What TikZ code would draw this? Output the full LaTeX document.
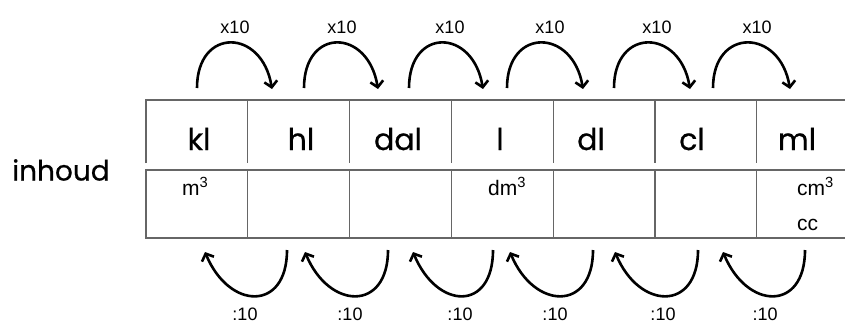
\documentclass[tikz,border=0pt]{standalone}
\usepackage{fontspec}
\setmainfont{Liberation Sans}
\newfontfamily\kidfont{Poppins}[FakeBold=0.6]
\usepackage{tikz}
\usetikzlibrary{arrows.meta}

\begin{document}
\begin{tikzpicture}[x=10pt, y=10pt,
    grid/.style={line width=1.1pt, black!60},
    unit/.style={inner sep=0pt, anchor=base, font=\kidfont\fontsize{30}{30}\selectfont},
    small/.style={inner sep=0pt, anchor=base west, font=\fontsize{21}{21}\selectfont},
    factor/.style={inner sep=0pt, anchor=base, font=\fontsize{18}{18}\selectfont},
    jump/.style={line width=2.6pt, black, -{Straight Barb[length=6pt, width=13pt]}}]
  \useasboundingbox (0,0) rectangle (84.5,32.5);

  % upper row
  \draw[grid] (14.6,16.2) -- (14.6,22.5) -- (84.5,22.5);
  \draw[grid] (24.78,22.5) -- (24.78,16.2) (34.96,22.5) -- (34.96,16.2)
              (45.14,22.5) -- (45.14,16.2) (55.32,22.5) -- (55.32,16.2)
              (65.5,22.5) -- (65.5,16.2) (75.68,22.5) -- (75.68,16.2);
  % lower row
  \draw[grid] (84.5,15.5) -- (14.6,15.5) -- (14.6,8.7) -- (84.5,8.7);
  \draw[grid] (24.78,15.5) -- (24.78,8.7) (34.96,15.5) -- (34.96,8.7)
              (45.14,15.5) -- (45.14,8.7) (55.32,15.5) -- (55.32,8.7)
              (65.5,15.5) -- (65.5,8.7) (75.68,15.5) -- (75.68,8.7);

  \node[font=\kidfont\fontsize{28}{28}\selectfont] (inhoud) at (6.1,15.5) {inhoud};

  \node[unit] (kl) at (19.9,17.5) {kl};
  \node[unit] (hl) at (30.1,17.5) {hl};
  \node[unit] (dal) at (39.8,17.5) {dal};
  \node[unit] (l) at (50.0,17.5) {l};
  \node[unit] (dl) at (59.1,17.5) {dl};
  \node[unit] (cl) at (69.2,17.5) {cl};
  \node[unit] (ml) at (79.7,17.5) {ml};

  \node[small] (m3) at (18.2,13.0) {m\textsuperscript{3}};
  \node[small] (dm3) at (48.8,13.0) {dm\textsuperscript{3}};
  \node[small] (cm3) at (79.7,13.0) {cm\textsuperscript{3}};
  \node[small] (cc) at (79.7,9.5) {cc};

  % x10 jumps
  \coordinate (up1) at (19.7,23.7);  \coordinate (down1) at (27.2,23.6);
  \coordinate (up2) at (30.4,23.7);  \coordinate (down2) at (37.8,23.6);
  \coordinate (up3) at (40.9,23.7);  \coordinate (down3) at (48.3,23.6);
  \coordinate (up4) at (50.7,23.7);  \coordinate (down4) at (58.3,23.6);
  \coordinate (up5) at (61.4,23.7);  \coordinate (down5) at (69.0,23.6);
  \coordinate (up6) at (71.3,23.7);  \coordinate (down6) at (79.0,23.6);

  \draw[jump] (up1) .. controls +(0,6.1) and +(-1,6.1) .. (down1);
  \draw[jump] (up2) .. controls +(0,6.1) and +(-1,6.1) .. (down2);
  \draw[jump] (up3) .. controls +(0,6.1) and +(-1,6.1) .. (down3);
  \draw[jump] (up4) .. controls +(0,6.1) and +(-1,6.1) .. (down4);
  \draw[jump] (up5) .. controls +(0,6.1) and +(-1,6.1) .. (down5);
  \draw[jump] (up6) .. controls +(0,6.1) and +(-1,6.1) .. (down6);

  \node[factor] (times1) at (23.5,29.2) {x10};
  \node[factor] (times2) at (34.2,29.2) {x10};
  \node[factor] (times3) at (45.0,29.2) {x10};
  \node[factor] (times4) at (55.0,29.2) {x10};
  \node[factor] (times5) at (65.7,29.2) {x10};
  \node[factor] (times6) at (75.7,29.2) {x10};

  % :10 jumps
  \coordinate (back1) at (28.7,7.5);  \coordinate (tip1) at (20.5,7.3);
  \coordinate (back2) at (38.8,7.5);  \coordinate (tip2) at (30.5,7.3);
  \coordinate (back3) at (49.3,7.5);  \coordinate (tip3) at (41.3,7.3);
  \coordinate (back4) at (59.3,7.5);  \coordinate (tip4) at (51.0,7.3);
  \coordinate (back5) at (69.8,7.5);  \coordinate (tip5) at (61.5,7.3);
  \coordinate (back6) at (80.5,7.5);  \coordinate (tip6) at (72.3,7.3);

  \draw[jump] (back1) .. controls +(0,-6.2) and +(2.4,-5.8) .. (tip1);
  \draw[jump] (back2) .. controls +(0,-6.2) and +(2.4,-5.8) .. (tip2);
  \draw[jump] (back3) .. controls +(0,-6.2) and +(2.4,-5.8) .. (tip3);
  \draw[jump] (back4) .. controls +(0,-6.2) and +(2.4,-5.8) .. (tip4);
  \draw[jump] (back5) .. controls +(0,-6.2) and +(2.4,-5.8) .. (tip5);
  \draw[jump] (back6) .. controls +(0,-6.2) and +(2.4,-5.8) .. (tip6);

  \node[factor] (div1) at (24.5,0.5) {:10};
  \node[factor] (div2) at (35.0,0.5) {:10};
  \node[factor] (div3) at (46.0,0.5) {:10};
  \node[factor] (div4) at (55.5,0.5) {:10};
  \node[factor] (div5) at (66.3,0.5) {:10};
  \node[factor] (div6) at (76.5,0.5) {:10};
\end{tikzpicture}
\end{document}
